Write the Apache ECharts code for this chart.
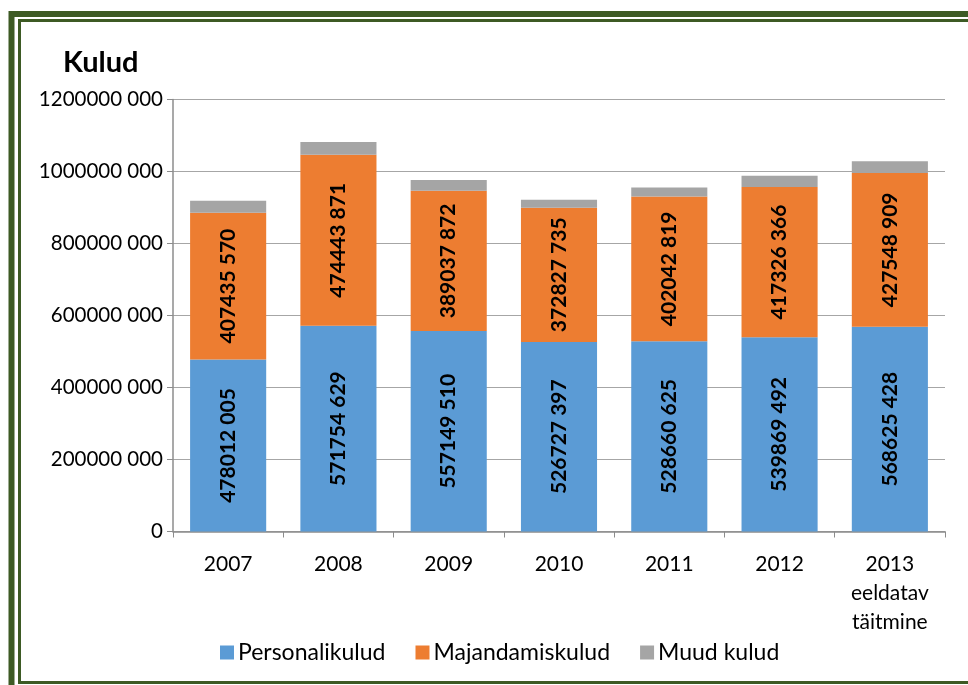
<!DOCTYPE html>
<html><head><meta charset="utf-8">
<script src="https://cdn.jsdelivr.net/npm/echarts@6/dist/echarts.min.js"></script>
<style>html,body{margin:0;padding:0;background:#fff}#c{width:968px;height:685px}</style>
</head><body><div id="c"></div>
<script>
const categories = ['2007','2008','2009','2010','2011','2012','2013\neeldatav\ntäitmine'];
const personalikulud = [478012005, 571754629, 557149510, 526727397, 528660625, 539869492, 568625428];
const majandamiskulud = [407435570, 474443871, 389037872, 372827735, 402042819, 417326366, 427548909];
const muudKulud = [33000000, 36000000, 30000000, 22000000, 25000000, 31000000, 32000000];
const yTicks = {min: 0, max: 1200000000, interval: 200000000};

function fmt(v){ const s = String(Math.round(v)); return s.length > 3 ? s.slice(0, -3) + ' ' + s.slice(-3) : s; }

const FONT = 'Lato';
const chart = echarts.init(document.getElementById('c'));
const lbl = {show: true, position: 'inside', rotate: 90, color: '#000', fontFamily: FONT, fontWeight: 'bold', fontSize: 21, formatter: p => fmt(p.value)};
chart.setOption({
  animation: false,
  textStyle: {fontFamily: FONT},
  title: {text: 'Kulud', left: 58, top: 43, textStyle: {fontFamily: FONT, fontWeight: 'bold', fontSize: 29, color: '#000'}},
  grid: {left: 173, right: 23, top: 99.5, bottom: 153.5},
  legend: {top: 636, left: 215, itemWidth: 14, itemHeight: 14, itemGap: 30, icon: 'rect',
    textStyle: {fontFamily: FONT, fontSize: 23, color: '#000', padding: [0,0,0,-1]},
    data: ['Personalikulud', 'Majandamiskulud', 'Muud kulud']},
  xAxis: {type: 'category', data: categories,
    axisLine: {lineStyle: {color: '#8c8c8c', width: 1.5}},
    axisTick: {show: true, length: 6, lineStyle: {color: '#8c8c8c'}},
    axisLabel: {color: '#000', fontFamily: FONT, fontSize: 21, margin: 18, lineHeight: 29}},
  yAxis: {type: 'value', min: yTicks.min, max: yTicks.max, interval: yTicks.interval,
    axisLine: {show: true, lineStyle: {color: '#8c8c8c', width: 1.5}},
    axisTick: {show: true, length: 6, lineStyle: {color: '#8c8c8c'}},
    splitLine: {lineStyle: {color: '#a6a6a6', width: 1.2}},
    axisLabel: {color: '#000', fontFamily: FONT, fontSize: 20.5, margin: 10, formatter: v => fmt(v)}},
  series: [
    {name: 'Personalikulud', type: 'bar', stack: 'a', data: personalikulud, barWidth: '69%', itemStyle: {color: '#5B9BD5'}, label: lbl},
    {name: 'Majandamiskulud', type: 'bar', stack: 'a', data: majandamiskulud, itemStyle: {color: '#ED7D31'}, label: lbl},
    {name: 'Muud kulud', type: 'bar', stack: 'a', data: muudKulud, itemStyle: {color: '#A5A5A5'}}
  ],
  graphic: [
    {type: 'rect', shape: {x: 11.5, y: 14, width: 1000, height: 700}, style: {fill: null, stroke: '#3D5A24', lineWidth: 6}, silent: true},
    {type: 'rect', shape: {x: 19.5, y: 20.5, width: 1000, height: 662}, style: {fill: null, stroke: '#3D5A24', lineWidth: 3}, silent: true}
  ]
});
</script></body></html>
